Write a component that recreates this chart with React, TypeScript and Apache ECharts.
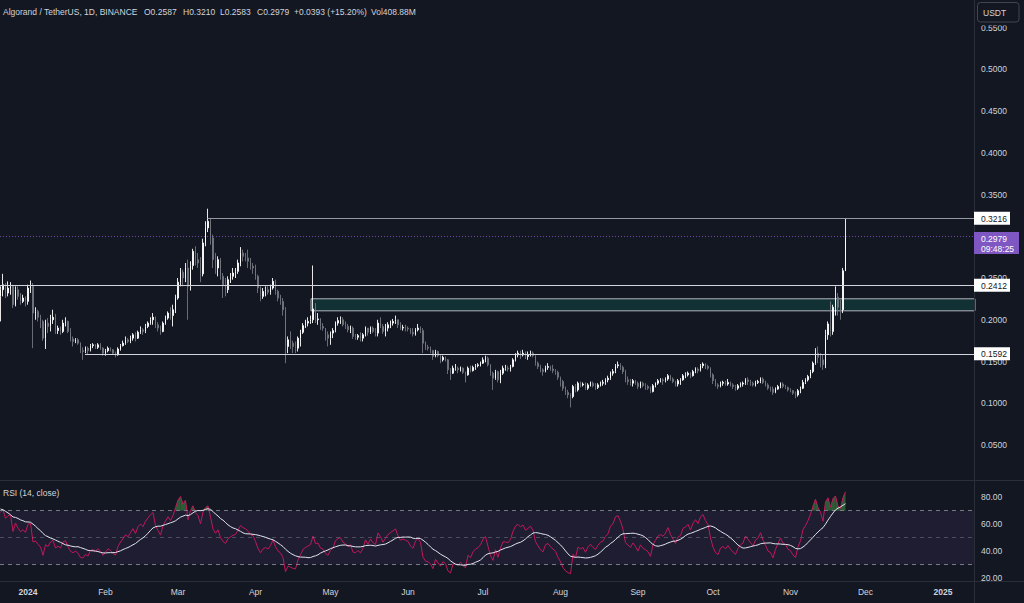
import React, { useEffect, useRef } from 'react';
import * as echarts from 'echarts';

// ---------- DATA ----------
// closes before the visible range (Nov 11 - Dec 20, 2023), used only to warm up the RSI
const warmupCloses = [
  0.124, 0.128, 0.125, 0.131, 0.127, 0.130, 0.126, 0.129, 0.133, 0.130,
  0.136, 0.141, 0.138, 0.145, 0.142, 0.149, 0.155, 0.151, 0.158, 0.163,
  0.160, 0.168, 0.175, 0.171, 0.182, 0.191, 0.186, 0.199, 0.212, 0.224,
  0.236, 0.228, 0.209, 0.216, 0.223, 0.214, 0.220, 0.211, 0.218, 0.228,
];
// daily [high, low, close]; open = previous close
const dec2023 = [
  [0.240, 0.198, 0.236], [0.255, 0.228, 0.242], [0.244, 0.226, 0.232], [0.246, 0.228, 0.238],
  [0.245, 0.230, 0.240], [0.242, 0.214, 0.218], [0.240, 0.216, 0.236], [0.240, 0.224, 0.228],
  [0.232, 0.218, 0.222], [0.230, 0.220, 0.226], [0.228, 0.216, 0.222],
];
const jan2024 = [
  [0.242, 0.218, 0.238], [0.247, 0.232, 0.240], [0.244, 0.166, 0.208], [0.215, 0.200, 0.210],
  [0.212, 0.198, 0.203], [0.206, 0.190, 0.198], [0.200, 0.175, 0.178], [0.200, 0.165, 0.196],
  [0.202, 0.184, 0.192], [0.206, 0.186, 0.200], [0.212, 0.195, 0.203], [0.207, 0.183, 0.187],
  [0.193, 0.183, 0.190], [0.192, 0.182, 0.186], [0.200, 0.184, 0.196], [0.203, 0.192, 0.198],
  [0.199, 0.184, 0.186], [0.190, 0.174, 0.177], [0.180, 0.168, 0.174], [0.178, 0.172, 0.176],
  [0.178, 0.170, 0.172], [0.173, 0.160, 0.163], [0.167, 0.152, 0.162], [0.168, 0.160, 0.166],
  [0.168, 0.159, 0.163], [0.171, 0.162, 0.169], [0.172, 0.166, 0.170], [0.171, 0.165, 0.167],
  [0.172, 0.165, 0.170], [0.172, 0.164, 0.166], [0.167, 0.157, 0.160],
];
const feb2024 = [
  [0.165, 0.157, 0.163], [0.168, 0.161, 0.166], [0.167, 0.162, 0.164], [0.165, 0.158, 0.160],
  [0.162, 0.155, 0.158], [0.167, 0.157, 0.165], [0.171, 0.163, 0.169], [0.175, 0.168, 0.172],
  [0.180, 0.170, 0.176], [0.178, 0.172, 0.174], [0.181, 0.172, 0.178], [0.184, 0.175, 0.182],
  [0.185, 0.174, 0.178], [0.187, 0.177, 0.185], [0.192, 0.183, 0.188], [0.190, 0.182, 0.186],
  [0.195, 0.184, 0.192], [0.198, 0.190, 0.196], [0.203, 0.194, 0.200], [0.208, 0.194, 0.203],
  [0.204, 0.190, 0.194], [0.197, 0.186, 0.190], [0.193, 0.182, 0.186], [0.198, 0.185, 0.196],
  [0.205, 0.194, 0.202], [0.210, 0.200, 0.208], [0.215, 0.200, 0.205], [0.218, 0.192, 0.212],
  [0.230, 0.208, 0.226],
];
const mar2024 = [
  [0.250, 0.224, 0.245], [0.262, 0.240, 0.257], [0.260, 0.240, 0.250], [0.268, 0.245, 0.262],
  [0.272, 0.200, 0.240], [0.270, 0.235, 0.265], [0.285, 0.260, 0.282], [0.288, 0.265, 0.272],
  [0.280, 0.262, 0.268], [0.275, 0.245, 0.255], [0.297, 0.252, 0.292], [0.318, 0.288, 0.310],
  [0.333, 0.305, 0.318], [0.322, 0.290, 0.298], [0.302, 0.262, 0.272], [0.280, 0.255, 0.262],
  [0.276, 0.252, 0.272], [0.274, 0.248, 0.252], [0.256, 0.226, 0.242], [0.250, 0.228, 0.236],
  [0.252, 0.232, 0.248], [0.256, 0.244, 0.252], [0.262, 0.248, 0.256], [0.262, 0.250, 0.258],
  [0.272, 0.255, 0.268], [0.287, 0.264, 0.280], [0.284, 0.270, 0.276], [0.280, 0.270, 0.274],
  [0.284, 0.262, 0.270], [0.274, 0.260, 0.264], [0.268, 0.255, 0.262],
];
const apr2024 = [
  [0.266, 0.248, 0.252], [0.254, 0.232, 0.238], [0.240, 0.222, 0.228], [0.238, 0.225, 0.234],
  [0.240, 0.228, 0.236], [0.240, 0.230, 0.233], [0.242, 0.230, 0.238], [0.250, 0.236, 0.246],
  [0.248, 0.230, 0.234], [0.236, 0.222, 0.226], [0.230, 0.218, 0.222], [0.226, 0.205, 0.212],
  [0.215, 0.148, 0.168], [0.180, 0.160, 0.176], [0.186, 0.165, 0.172], [0.175, 0.160, 0.168],
  [0.174, 0.160, 0.166], [0.180, 0.162, 0.178], [0.188, 0.168, 0.185], [0.196, 0.183, 0.193],
  [0.200, 0.190, 0.196], [0.203, 0.192, 0.198], [0.205, 0.195, 0.200], [0.265, 0.196, 0.213],
  [0.220, 0.196, 0.200], [0.208, 0.194, 0.201], [0.202, 0.188, 0.192], [0.196, 0.187, 0.190],
  [0.190, 0.175, 0.182], [0.186, 0.168, 0.178],
];
const may2024 = [
  [0.186, 0.170, 0.184], [0.190, 0.178, 0.187], [0.198, 0.185, 0.196], [0.203, 0.193, 0.199],
  [0.204, 0.195, 0.200], [0.203, 0.192, 0.194], [0.198, 0.189, 0.192], [0.195, 0.185, 0.188],
  [0.193, 0.184, 0.190], [0.192, 0.177, 0.180], [0.183, 0.176, 0.179], [0.183, 0.176, 0.181],
  [0.185, 0.174, 0.178], [0.184, 0.174, 0.182], [0.192, 0.180, 0.190], [0.190, 0.181, 0.185],
  [0.192, 0.183, 0.190], [0.192, 0.184, 0.186], [0.190, 0.180, 0.184], [0.200, 0.180, 0.196],
  [0.203, 0.190, 0.192], [0.195, 0.183, 0.186], [0.195, 0.180, 0.190], [0.197, 0.186, 0.194],
  [0.199, 0.190, 0.196], [0.201, 0.193, 0.198], [0.205, 0.195, 0.200], [0.200, 0.190, 0.194],
  [0.197, 0.188, 0.190], [0.194, 0.187, 0.191], [0.194, 0.186, 0.190],
];
const jun2024 = [
  [0.192, 0.186, 0.189], [0.190, 0.183, 0.185], [0.190, 0.180, 0.183], [0.190, 0.181, 0.188],
  [0.195, 0.186, 0.190], [0.192, 0.184, 0.187], [0.190, 0.160, 0.172], [0.174, 0.164, 0.167],
  [0.170, 0.163, 0.166], [0.168, 0.160, 0.163], [0.164, 0.152, 0.156], [0.164, 0.155, 0.162],
  [0.163, 0.155, 0.157], [0.158, 0.148, 0.152], [0.157, 0.150, 0.155], [0.156, 0.150, 0.152],
  [0.153, 0.135, 0.140], [0.142, 0.128, 0.136], [0.145, 0.135, 0.142], [0.147, 0.139, 0.142],
  [0.144, 0.136, 0.140], [0.144, 0.138, 0.142], [0.143, 0.135, 0.137], [0.138, 0.125, 0.134],
  [0.144, 0.133, 0.142], [0.145, 0.137, 0.139], [0.145, 0.138, 0.143], [0.147, 0.140, 0.145],
  [0.148, 0.143, 0.146], [0.150, 0.144, 0.148],
];
const jul2024 = [
  [0.155, 0.147, 0.152], [0.157, 0.149, 0.154], [0.156, 0.144, 0.146], [0.147, 0.133, 0.136],
  [0.138, 0.116, 0.130], [0.140, 0.128, 0.138], [0.139, 0.125, 0.128], [0.140, 0.124, 0.136],
  [0.145, 0.134, 0.142], [0.146, 0.139, 0.142], [0.145, 0.138, 0.141], [0.146, 0.138, 0.144],
  [0.154, 0.143, 0.152], [0.160, 0.150, 0.158], [0.163, 0.155, 0.160], [0.163, 0.153, 0.158],
  [0.164, 0.156, 0.160], [0.162, 0.153, 0.156], [0.162, 0.152, 0.158], [0.163, 0.156, 0.160],
  [0.162, 0.155, 0.157], [0.159, 0.145, 0.148], [0.150, 0.141, 0.144], [0.146, 0.137, 0.140],
  [0.142, 0.133, 0.138], [0.145, 0.137, 0.143], [0.148, 0.140, 0.144], [0.145, 0.139, 0.141],
  [0.146, 0.136, 0.139], [0.141, 0.134, 0.137], [0.139, 0.128, 0.131],
];
const aug2024 = [
  [0.132, 0.120, 0.126], [0.128, 0.115, 0.118], [0.120, 0.110, 0.113], [0.116, 0.106, 0.110],
  [0.112, 0.095, 0.108], [0.122, 0.106, 0.120], [0.123, 0.113, 0.116], [0.126, 0.114, 0.124],
  [0.126, 0.119, 0.122], [0.125, 0.120, 0.123], [0.125, 0.116, 0.118], [0.124, 0.116, 0.122],
  [0.126, 0.120, 0.124], [0.126, 0.119, 0.121], [0.124, 0.116, 0.119], [0.124, 0.117, 0.122],
  [0.126, 0.120, 0.124], [0.128, 0.121, 0.125], [0.130, 0.122, 0.128], [0.133, 0.125, 0.130],
  [0.138, 0.128, 0.136], [0.141, 0.133, 0.138], [0.147, 0.136, 0.145], [0.150, 0.142, 0.146],
  [0.148, 0.140, 0.143], [0.145, 0.135, 0.138], [0.140, 0.125, 0.128], [0.132, 0.122, 0.126],
  [0.129, 0.121, 0.124], [0.129, 0.120, 0.127], [0.128, 0.122, 0.124],
];
const sep2024 = [
  [0.126, 0.117, 0.120], [0.126, 0.118, 0.124], [0.126, 0.119, 0.121], [0.124, 0.116, 0.120],
  [0.122, 0.116, 0.118], [0.120, 0.112, 0.114], [0.123, 0.113, 0.121], [0.125, 0.119, 0.124],
  [0.129, 0.122, 0.127], [0.130, 0.125, 0.128], [0.130, 0.122, 0.127], [0.131, 0.125, 0.129],
  [0.135, 0.127, 0.133], [0.134, 0.127, 0.129], [0.131, 0.124, 0.126], [0.127, 0.120, 0.123],
  [0.129, 0.120, 0.127], [0.130, 0.122, 0.128], [0.135, 0.127, 0.133], [0.137, 0.130, 0.134],
  [0.138, 0.132, 0.136], [0.137, 0.130, 0.133], [0.140, 0.132, 0.138], [0.143, 0.136, 0.141],
  [0.143, 0.136, 0.139], [0.147, 0.138, 0.145], [0.149, 0.142, 0.147], [0.148, 0.141, 0.144],
  [0.146, 0.140, 0.142], [0.143, 0.131, 0.134],
];
const oct2024 = [
  [0.136, 0.123, 0.127], [0.129, 0.120, 0.122], [0.124, 0.117, 0.120], [0.126, 0.119, 0.124],
  [0.127, 0.121, 0.125], [0.127, 0.121, 0.123], [0.129, 0.121, 0.125], [0.126, 0.120, 0.122],
  [0.124, 0.117, 0.120], [0.122, 0.115, 0.118], [0.123, 0.116, 0.121], [0.125, 0.119, 0.123],
  [0.126, 0.120, 0.124], [0.130, 0.122, 0.128], [0.131, 0.122, 0.126], [0.128, 0.121, 0.124],
  [0.126, 0.120, 0.122], [0.127, 0.120, 0.125], [0.128, 0.123, 0.126], [0.131, 0.124, 0.129],
  [0.131, 0.123, 0.125], [0.127, 0.120, 0.122], [0.124, 0.116, 0.118], [0.120, 0.114, 0.117],
  [0.120, 0.110, 0.113], [0.119, 0.112, 0.117], [0.122, 0.116, 0.120], [0.125, 0.118, 0.123],
  [0.125, 0.118, 0.120], [0.122, 0.117, 0.119], [0.120, 0.114, 0.116],
];
const nov2024 = [
  [0.118, 0.113, 0.115], [0.116, 0.110, 0.112], [0.114, 0.106, 0.110], [0.117, 0.108, 0.115],
  [0.120, 0.112, 0.118], [0.128, 0.117, 0.125], [0.130, 0.123, 0.128], [0.134, 0.126, 0.132],
  [0.140, 0.130, 0.138], [0.150, 0.136, 0.148], [0.166, 0.146, 0.160], [0.168, 0.148, 0.155],
  [0.160, 0.143, 0.152], [0.158, 0.140, 0.146], [0.188, 0.142, 0.182], [0.198, 0.176, 0.195],
  [0.222, 0.180, 0.186], [0.218, 0.182, 0.215], [0.240, 0.205, 0.227], [0.232, 0.205, 0.215],
  [0.224, 0.200, 0.212], [0.262, 0.208, 0.2587], [0.3210, 0.2583, 0.2979],
];
const months = [dec2023, jan2024, feb2024, mar2024, apr2024, may2024, jun2024, jul2024, aug2024, sep2024, oct2024, nov2024];
const firstDay = -11; // Dec 21, 2023, counted in days from Jan 1, 2024

const priceTicks = [0.05, 0.1, 0.15, 0.2, 0.25, 0.35, 0.4, 0.45, 0.5, 0.55];
const rsiTicks = [20, 40, 60, 80];
const rsiLevels = [70, 50, 30];
const monthStarts = [0, 31, 60, 91, 121, 152, 182, 213, 244, 274, 305, 335, 366];
const monthNames = ['2024', 'Feb', 'Mar', 'Apr', 'May', 'Jun', 'Jul', 'Aug', 'Sep', 'Oct', 'Nov', 'Dec', '2025'];
const levelPrices = [0.3216, 0.2412, 0.1592];
const levelStartDays = [71.8, -11.2, 22.8];
const zoneBounds = [0.2107, 0.2251];
const zoneStartDay = 113.2;
const lastPrice = 0.2979;
const countdown = '09:48:25';
const titleTexts = ['Algorand / TetherUS, 1D, BINANCE', 'O0.2587', 'H0.3210', 'L0.2583', 'C0.2979', '+0.0393 (+15.20%)', 'Vol408.88M'];
const rsiTitle = 'RSI (14, close)';
const quoteLabel = 'USDT';

// ---------- LAYOUT / STYLE ----------
const titleX = [3, 144, 183, 220, 257, 294, 371];
const FONT = "'Liberation Sans', Arial, sans-serif";
const FS = 8.5;
const TXT = '#d1d4dc';
const BG = '#131722';
const SEP = '#2a2e39';
const X_MIN = -11.2, X_MAX = 378.8;
const P_MIN = 0.00807, P_MAX = 0.58299;
const R_MIN = 17.8, R_MAX = 92.1;

function computeRsi(cl: number[], n: number) {
  const out: (number | null)[] = cl.map(() => null);
  let g = 0, l = 0;
  for (let i = 1; i <= n; i++) {
    const d = cl[i] - cl[i - 1];
    if (d > 0) g += d; else l -= d;
  }
  g /= n; l /= n;
  out[n] = l === 0 ? 100 : 100 - 100 / (1 + g / l);
  for (let i = n + 1; i < cl.length; i++) {
    const d = cl[i] - cl[i - 1];
    g = (g * (n - 1) + Math.max(d, 0)) / n;
    l = (l * (n - 1) + Math.max(-d, 0)) / n;
    out[i] = l === 0 ? 100 : 100 - 100 / (1 + g / l);
  }
  return out;
}
function sma(v: (number | null)[], n: number) {
  return v.map((_, i) => {
    if (i < n - 1) return null;
    let s = 0;
    for (let k = i - n + 1; k <= i; k++) {
      if (v[k] == null) return null;
      s += v[k] as number;
    }
    return s / n;
  });
}

export default function App() {
  const ref = useRef<HTMLDivElement>(null);
  useEffect(() => {
    document.body.style.margin = '0';
    document.body.style.background = BG;
    const el = ref.current!;
    const chart = echarts.init(el, null, { renderer: 'svg' });

    const rows = months.flat();
    let prev = warmupCloses[warmupCloses.length - 1];
    const candles = rows.map((r, i) => {
      const [h, l, c] = r;
      const o = prev;
      prev = c;
      return [firstDay + i, o, c, Math.min(l, o, c), Math.max(h, o, c)];
    });
    const allCloses = warmupCloses.concat(rows.map((r) => r[2]));
    const rsiAll = computeRsi(allCloses, 14);
    const maAll = sma(rsiAll, 14);
    const off = warmupCloses.length;
    const rsiData = rows.map((_, i) => [firstDay + i, rsiAll[off + i]]);
    const maData = rows.map((_, i) => [firstDay + i, maAll[off + i]]);
    // segments of the RSI line, for the overbought fill above 70
    const segs = rows.slice(1).map((_, i) => [firstDay + i, rsiAll[off + i], firstDay + i + 1, rsiAll[off + i + 1]]);
    const OB = rsiLevels[0];

    const axisLbl = { color: TXT, fontSize: FS, fontFamily: FONT };

    const option: any = {
      animation: false,
      backgroundColor: BG,
      grid: [
        { left: 0, top: 0, width: 975, height: 480, containLabel: false, outerBoundsMode: 'none' },
        { left: 0, top: 481, width: 975, height: 100, containLabel: false, outerBoundsMode: 'none' },
      ],
      xAxis: [
        { type: 'value', gridIndex: 0, min: X_MIN, max: X_MAX, show: false },
        {
          type: 'value', gridIndex: 1, min: X_MIN, max: X_MAX,
          axisLine: { show: false }, axisTick: { show: false }, splitLine: { show: false },
          axisLabel: {
            ...axisLbl, margin: 6, customValues: monthStarts,
            formatter: (v: number) => {
              const i = monthStarts.indexOf(Math.round(v));
              if (i < 0) return '';
              const name = monthNames[i];
              return /^\d{4}$/.test(name) ? `{b|${name}}` : name;
            },
            rich: { b: { ...axisLbl, fontWeight: 'bold' } },
          },
        },
      ],
      yAxis: [
        {
          type: 'value', gridIndex: 0, position: 'right', min: P_MIN, max: P_MAX,
          axisLine: { show: false }, axisTick: { show: false }, splitLine: { show: false },
          axisLabel: { ...axisLbl, margin: 6, customValues: priceTicks, formatter: (v: number) => v.toFixed(4) },
        },
        {
          type: 'value', gridIndex: 1, position: 'right', min: R_MIN, max: R_MAX,
          axisLine: { show: false }, axisTick: { show: false }, splitLine: { show: false },
          axisLabel: { ...axisLbl, margin: 6, customValues: rsiTicks, formatter: (v: number) => v.toFixed(2) },
        },
      ],
      series: [
        {
          type: 'candlestick', xAxisIndex: 0, yAxisIndex: 0, data: candles,
          barWidth: 1.4,
          itemStyle: { color: '#ffffff', color0: '#73767f', borderColor: '#ffffff', borderColor0: '#73767f', borderWidth: 0.9 },
          markArea: {
            silent: true,
            itemStyle: { color: '#113135', borderColor: '#b2b5be', borderWidth: 1 },
            data: [[{ coord: [zoneStartDay, zoneBounds[1]] }, { coord: [X_MAX, zoneBounds[0]] }]],
          },
          markLine: {
            silent: true, symbol: ['none', 'none'], label: { show: false },
            data: [
              [{ coord: [levelStartDays[0], levelPrices[0]], lineStyle: { color: '#9598a1', width: 1, type: 'solid' } }, { coord: [X_MAX, levelPrices[0]] }],
              [{ coord: [levelStartDays[1], levelPrices[1]], lineStyle: { color: '#d1d4dc', width: 1, type: 'solid' } }, { coord: [X_MAX, levelPrices[1]] }],
              [{ coord: [levelStartDays[2], levelPrices[2]], lineStyle: { color: '#d1d4dc', width: 1, type: 'solid' } }, { coord: [X_MAX, levelPrices[2]] }],
              { yAxis: lastPrice, lineStyle: { color: '#7e57c2', width: 1, type: [1, 2], opacity: 0.8 } },
            ],
          },
        },
        {
          type: 'custom', xAxisIndex: 1, yAxisIndex: 1, data: segs, silent: true, z: 3,
          encode: { x: [0, 2], y: [1, 3] },
          renderItem: (_p: any, api: any) => {
            const x0 = api.value(0), r0 = api.value(1), x1 = api.value(2), r1 = api.value(3);
            if (!(r0 > OB) && !(r1 > OB)) return null;
            let pts: number[][];
            if (r0 > OB && r1 > OB) pts = [[x0, OB], [x0, r0], [x1, r1], [x1, OB]];
            else if (r0 > OB) {
              const xc = x0 + ((r0 - OB) / (r0 - r1)) * (x1 - x0);
              pts = [[x0, OB], [x0, r0], [xc, OB]];
            } else {
              const xc = x0 + ((OB - r0) / (r1 - r0)) * (x1 - x0);
              pts = [[xc, OB], [x1, r1], [x1, OB]];
            }
            return { type: 'polygon', shape: { points: pts.map((p) => api.coord(p)) }, style: { fill: 'rgba(76,175,80,0.45)' } };
          },
        },
        {
          type: 'line', xAxisIndex: 1, yAxisIndex: 1, data: rsiData, symbol: 'none', z: 4,
          lineStyle: { color: '#c2185b', width: 1 },
          markArea: { silent: true, itemStyle: { color: 'rgba(126,87,194,0.1)' }, data: [[{ yAxis: rsiLevels[0] }, { yAxis: rsiLevels[2] }]] },
          markLine: {
            silent: true, symbol: ['none', 'none'], label: { show: false },
            data: [
              { yAxis: rsiLevels[0], lineStyle: { color: '#787b86', width: 1, type: [4, 4] } },
              { yAxis: rsiLevels[1], lineStyle: { color: 'rgba(120,123,134,0.5)', width: 1, type: [4, 4] } },
              { yAxis: rsiLevels[2], lineStyle: { color: '#787b86', width: 1, type: [4, 4] } },
            ],
          },
        },
        {
          type: 'line', xAxisIndex: 1, yAxisIndex: 1, data: maData, symbol: 'none', z: 5,
          lineStyle: { color: '#e0e3eb', width: 1 },
        },
      ],
    };
    chart.setOption(option);

    const py = (v: number) => chart.convertToPixel({ yAxisIndex: 0 } as any, v) as number;
    const g: any[] = [];
    const txt = (x: number, y: number, text: string, fill: string, extra: any = {}) => ({
      type: 'text', x, y, z: 101,
      style: { text, fill, fontSize: FS, fontFamily: FONT, align: 'left', verticalAlign: 'middle', ...extra },
    });
    g.push({ type: 'line', z: 50, shape: { x1: 974.5, y1: 0, x2: 974.5, y2: 603 }, style: { stroke: SEP, lineWidth: 1 } });
    g.push({ type: 'line', z: 50, shape: { x1: 0, y1: 480.5, x2: 1024, y2: 480.5 }, style: { stroke: SEP, lineWidth: 1 } });
    g.push({ type: 'line', z: 50, shape: { x1: 0, y1: 581.5, x2: 1024, y2: 581.5 }, style: { stroke: SEP, lineWidth: 1 } });
    titleTexts.forEach((t, i) => g.push(txt(titleX[i], 12, t, TXT)));
    g.push(txt(3, 492.5, rsiTitle, TXT));
    // quote currency box
    g.push({ type: 'rect', z: 90, shape: { x: 975, y: 0, width: 49, height: 25.5 }, style: { fill: BG } });
    g.push({ type: 'rect', z: 91, shape: { x: 977.5, y: 2.5, width: 41.5, height: 19.5, r: 3 }, style: { fill: BG, stroke: '#434651', lineWidth: 1 } });
    g.push(txt(983, 12.5, quoteLabel, TXT));
    // level labels
    levelPrices.forEach((p) => {
      const y = py(p);
      g.push({ type: 'rect', z: 100, shape: { x: 974, y: y - 6.5, width: 36, height: 13 }, style: { fill: '#ffffff' } });
      g.push(txt(981, y + 0.5, p.toFixed(4), '#131722'));
    });
    const yl = py(lastPrice);
    g.push({ type: 'rect', z: 100, shape: { x: 974, y: yl - 6, width: 45, height: 22 }, style: { fill: '#7e57c2' } });
    g.push(txt(981, yl + 0.5, lastPrice.toFixed(4), '#ffffff'));
    g.push(txt(981, yl + 10.5, countdown, '#ffffff'));
    chart.setOption({ graphic: g });

    return () => chart.dispose();
  }, []);
  return <div ref={ref} style={{ position: 'fixed', left: 0, top: 0, width: 1024, height: 603 }} />;
}
